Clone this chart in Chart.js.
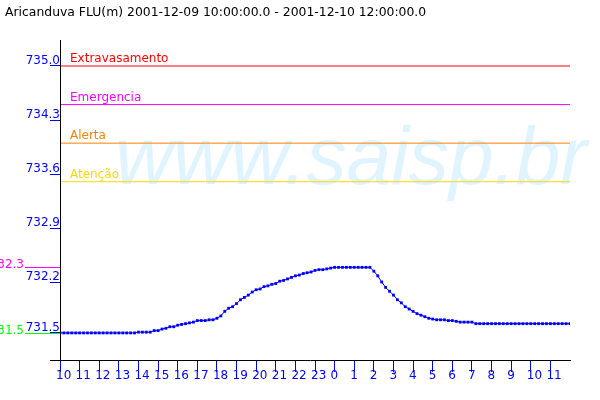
<!DOCTYPE html>
<html>
<head>
<meta charset="utf-8">
<script src="https://cdn.jsdelivr.net/npm/chart.js@4"></script>
<style>
  body { margin: 0; background: #fff; }
</style>
</head>
<body>
<canvas id="chart" width="600" height="400"></canvas>
<script>
const chartTitle = 'Aricanduva FLU(m) 2001-12-09 10:00:00.0 - 2001-12-10 12:00:00.0';

// one reading every 12 minutes, starting 10:00 on the 9th
const sampleMinutes = 12;
const spanHours = 26;
const levels = [
    731.54, 731.54, 731.54, 731.54, 731.54, 731.54, 731.54, 731.54, 731.54, 731.54,
    731.54, 731.54, 731.54, 731.54, 731.54, 731.54, 731.54, 731.54, 731.54, 731.54,
    731.55, 731.55, 731.55, 731.55, 731.57, 731.57, 731.59, 731.60, 731.62, 731.62,
    731.64, 731.65, 731.66, 731.67, 731.68, 731.70, 731.70, 731.70, 731.71, 731.71,
    731.73, 731.76, 731.82, 731.86, 731.88, 731.92, 731.97, 732.00, 732.03, 732.07,
    732.10, 732.11, 732.14, 732.15, 732.17, 732.18, 732.21, 732.22, 732.24, 732.26,
    732.28, 732.29, 732.31, 732.32, 732.33, 732.35, 732.36, 732.36, 732.37, 732.38,
    732.39, 732.39, 732.39, 732.39, 732.39, 732.39, 732.39, 732.39, 732.39, 732.39,
    732.34, 732.28, 732.20, 732.13, 732.08, 732.03, 731.97, 731.93, 731.88, 731.85,
    731.82, 731.79, 731.77, 731.75, 731.73, 731.72, 731.71, 731.71, 731.71, 731.70,
    731.70, 731.69, 731.68, 731.68, 731.68, 731.68, 731.66, 731.66, 731.66, 731.66,
    731.66, 731.66, 731.66, 731.66, 731.66, 731.66, 731.66, 731.66, 731.66, 731.66,
    731.66, 731.66, 731.66, 731.66, 731.66, 731.66, 731.66, 731.66, 731.66, 731.66,
    731.66
];

const xTickHours = [0, 1, 2, 3, 4, 5, 6, 7, 8, 9, 10, 11, 12, 13, 14, 15, 16, 17, 18, 19, 20, 21, 22, 23, 24, 25];
const xTickLabels = ['10', '11', '12', '13', '14', '15', '16', '17', '18', '19', '20', '21', '22', '23',
    '0', '1', '2', '3', '4', '5', '6', '7', '8', '9', '10', '11'];
// lowest tick sits on the series minimum
const yTicks = [731.54, 732.2, 732.9, 733.6, 734.3, 735.0];

const thresholdNames = ['Extravasamento', 'Emergencia', 'Alerta', 'Atenção'];
const thresholdValues = [735.0, 734.5, 734.0, 733.5];
const thresholdColors = ['#ff0000', '#ff00ff', '#ff8000', '#ffd700'];

const extremeLabels = ['732.3', '731.5'];
const extremeColors = ['#ff00ff', '#00ff00'];

const FONT = '"DejaVu Sans", sans-serif';
const BLUE = '#0000ff';

const decorPlugin = {
    id: 'decor',
    beforeDatasetsDraw(chart) {
        // watermark behind everything
        const ctx = chart.ctx;
        ctx.save();
        ctx.font = 'italic 82px "Liberation Sans", sans-serif';
        ctx.fillStyle = '#e0f4ff';
        ctx.textBaseline = 'alphabetic';
        const w = ctx.measureText('www.saisp.br').width;
        ctx.translate(115, 184);
        ctx.scale(472 / w, 1);
        ctx.fillText('www.saisp.br', 0, 0);
        ctx.restore();
    },
    afterDraw(chart) {
        const ctx = chart.ctx;
        const area = chart.chartArea;
        const yScale = chart.scales.y;
        ctx.save();

        // axes
        ctx.strokeStyle = '#000';
        ctx.lineWidth = 1;
        ctx.beginPath();
        ctx.moveTo(area.left + 0.5, area.top);
        ctx.lineTo(area.left + 0.5, area.bottom + 0.5);
        ctx.moveTo(area.left - 10, area.bottom + 0.5);
        ctx.lineTo(area.right + 1, area.bottom + 0.5);
        ctx.stroke();

        // title
        ctx.font = '12.4px ' + FONT;
        ctx.fillStyle = '#000';
        ctx.textAlign = 'left';
        ctx.textBaseline = 'alphabetic';
        ctx.fillText(chartTitle, 5, 16);

        // threshold names
        ctx.font = '12px ' + FONT;
        thresholdNames.forEach((name, i) => {
            const y = Math.round(yScale.getPixelForValue(thresholdValues[i]));
            ctx.fillStyle = thresholdColors[i];
            ctx.fillText(name, area.left + 10, y - 4);
        });

        // max / min markers left of the axis
        const extremes = [Math.max(...levels), Math.min(...levels)];
        extremes.forEach((v, i) => {
            const y = Math.round(yScale.getPixelForValue(v)) + 0.5;
            ctx.strokeStyle = extremeColors[i];
            ctx.beginPath();
            ctx.moveTo(25, y);
            ctx.lineTo(area.left, y);
            ctx.stroke();
            ctx.fillStyle = extremeColors[i];
            ctx.textAlign = 'right';
            ctx.fillText(extremeLabels[i], 24, y);
        });
        ctx.restore();
    }
};

const datasets = [{
    data: levels.map((v, i) => ({ x: i * sampleMinutes / 60, y: v })),
    borderColor: BLUE,
    borderWidth: 1,
    pointStyle: 'rect',
    pointRadius: 2,
    pointBorderWidth: 0,
    pointBackgroundColor: BLUE,
    tension: 0
}];
thresholdValues.forEach((v, i) => {
    datasets.push({
        data: [{ x: 0, y: v }, { x: spanHours, y: v }],
        borderColor: thresholdColors[i],
        borderWidth: 1,
        pointRadius: 0
    });
});

new Chart(document.getElementById('chart'), {
    type: 'line',
    data: { datasets },
    options: {
        responsive: false,
        animation: false,
        events: [],
        layout: { padding: { top: 40, right: 30, left: 0, bottom: 0 } },
        plugins: { legend: { display: false }, tooltip: { enabled: false } },
        scales: {
            x: {
                type: 'linear',
                min: 0,
                max: spanHours,
                afterBuildTicks: s => { s.ticks = xTickHours.map(v => ({ value: v })); },
                afterFit: s => { s.height = 40; },
                border: { display: false },
                grid: { drawOnChartArea: false, drawTicks: true, tickLength: 12, color: BLUE },
                ticks: {
                    callback: (v, i) => xTickLabels[i],
                    color: BLUE,
                    font: { family: FONT, size: 12 },
                    align: 'start',
                    labelOffset: -4,
                    padding: -3,
                    maxRotation: 0,
                    autoSkip: false
                }
            },
            y: {
                type: 'linear',
                min: 731.189,
                max: 735.337,
                afterBuildTicks: s => { s.ticks = yTicks.map(v => ({ value: v })); },
                afterFit: s => { s.width = 60; },
                border: { display: false },
                grid: { drawOnChartArea: false, drawTicks: true, tickLength: 10, color: BLUE },
                ticks: {
                    callback: v => v.toFixed(1),
                    color: BLUE,
                    font: { family: FONT, size: 12 },
                    padding: -10,
                    labelOffset: -5,
                    autoSkip: false
                }
            }
        }
    },
    plugins: [decorPlugin]
});
</script>
</body>
</html>
